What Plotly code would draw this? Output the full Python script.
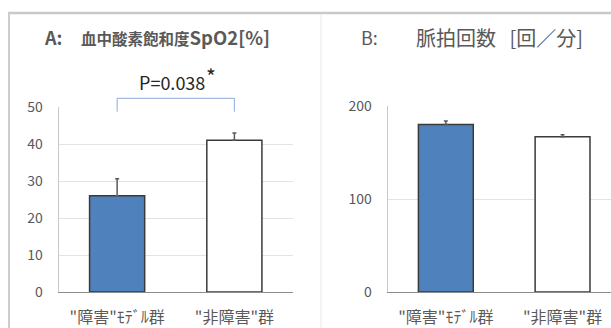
import plotly.graph_objects as go

# --- data ---
groups = ['"障害"ﾓﾃﾞﾙ群', '"非障害"群']
spo2_mean = [26, 41]
spo2_err = [4.6, 2.0]
pulse_mean = [180, 167]
pulse_err = [4, 2]
spo2_ticks = [0, 10, 20, 30, 40, 50]
pulse_ticks = [0, 100, 200]
p_label = "P=0.038"

W, H = 611, 328
FONT = "Noto Sans CJK JP, Noto Sans, sans-serif"
TXT = "#595959"
fill_colors = ["#4F81BD", "#FFFFFF"]


def px_x(p):
    return p / W


def px_y(p):
    return 1 - p / H


fig = go.Figure()

bar_style = dict(
    width=0.47,
    marker=dict(color=fill_colors, line=dict(color="#3A3A3A", width=1.5)),
    showlegend=False,
    hoverinfo="skip",
)
err_style = dict(type="data", symmetric=False, color="#595959", thickness=1.5, width=2)

fig.add_trace(go.Bar(x=[0, 1], y=spo2_mean,
                     error_y=dict(array=spo2_err, arrayminus=[0, 0], **err_style),
                     xaxis="x", yaxis="y", **bar_style))
fig.add_trace(go.Bar(x=[0, 1], y=pulse_mean,
                     error_y=dict(array=pulse_err, arrayminus=[0, 0], **err_style),
                     xaxis="x2", yaxis="y2", **bar_style))

yax_common = dict(
    showgrid=True, gridcolor="#E3E3E3", gridwidth=1,
    showline=True, linecolor="#C8C8C8", linewidth=1,
    zeroline=False, ticks="", ticklabelstandoff=12,
    tickfont=dict(family=FONT, size=14, color=TXT),
    fixedrange=True, automargin=False,
)
xax_common = dict(
    tickmode="array", tickvals=[0, 1], ticktext=groups,
    showline=True, linecolor="#8C8C8C", linewidth=1.2,
    showgrid=False, zeroline=False, ticks="", ticklabelstandoff=11,
    tickfont=dict(family=FONT, size=16, color=TXT),
    fixedrange=True, automargin=False,
)

fig.update_layout(
    width=W, height=H,
    margin=dict(l=0, r=0, t=0, b=0),
    paper_bgcolor="white", plot_bgcolor="white",
    xaxis=dict(domain=[px_x(58.5), px_x(293)], range=[-0.5, 1.5], **xax_common),
    yaxis=dict(domain=[px_y(292), px_y(107)], range=[0, 50],
               tickvals=spo2_ticks, anchor="x", **yax_common),
    xaxis2=dict(domain=[px_x(387.7), 1], range=[-0.498, 1.415], anchor="y2", **xax_common),
    yaxis2=dict(domain=[px_y(292), px_y(106)], range=[0, 200],
                tickvals=pulse_ticks, anchor="x2", **yax_common),
)

shapes = []
# panel frame
shapes.append(dict(type="line", xref="paper", yref="paper",
                   x0=px_x(8), x1=1, y0=px_y(13), y1=px_y(13),
                   line=dict(color="#C9C9C9", width=2.5)))
shapes.append(dict(type="line", xref="paper", yref="paper",
                   x0=px_x(9), x1=px_x(9), y0=px_y(13), y1=0,
                   line=dict(color="#CDCDCD", width=2)))
shapes.append(dict(type="line", xref="paper", yref="paper",
                   x0=px_x(321), x1=px_x(321), y0=px_y(14), y1=0,
                   line=dict(color="#E8E8E8", width=1)))
# significance bracket between the two groups
br = dict(color="#8FAADC", width=1)
shapes.append(dict(type="line", xref="x", yref="paper", x0=0, x1=1,
                   y0=px_y(98.3), y1=px_y(98.3), line=br))
for xv in (0, 1):
    shapes.append(dict(type="line", xref="x", yref="paper", x0=xv, x1=xv,
                       y0=px_y(98.3), y1=px_y(111.7), line=br))
fig.update_layout(shapes=shapes)

ann = []
ann.append(dict(xref="paper", yref="paper", x=px_x(171.5), y=px_y(82),
                text=p_label, showarrow=False,
                xanchor="center", yanchor="middle",
                font=dict(family=FONT, size=18, color="#262626")))
ann.append(dict(xref="paper", yref="paper", x=px_x(210.5), y=px_y(76),
                text="*", showarrow=False,
                xanchor="center", yanchor="middle",
                font=dict(family=FONT, size=21, color="#262626")))

title_font = dict(family=FONT, size=15, color=TXT)
ann.append(dict(xref="paper", yref="paper", x=px_x(42), y=px_y(37),
                text='<b><span style="font-size:18px">A:</span></b>', showarrow=False,
                xanchor="left", yanchor="middle", font=title_font))
ann.append(dict(xref="paper", yref="paper", x=px_x(78.5), y=px_y(37),
                text='<b><span style="font-size:15.5px">血中酸素飽和度</span>'
                     '<span style="font-size:18.5px">SpO2[%]</span></b>',
                showarrow=False, xanchor="left", yanchor="middle", font=title_font))
ann.append(dict(xref="paper", yref="paper", x=px_x(359), y=px_y(37),
                text='<span style="font-size:18px">B:</span>', showarrow=False,
                xanchor="left", yanchor="middle", font=title_font))
ann.append(dict(xref="paper", yref="paper", x=px_x(414), y=px_y(37),
                text='<span style="font-size:20px">脈拍回数   [回／分]</span>',
                showarrow=False, xanchor="left", yanchor="middle", font=title_font))
fig.update_layout(annotations=ann)

fig.write_html("out.html")
